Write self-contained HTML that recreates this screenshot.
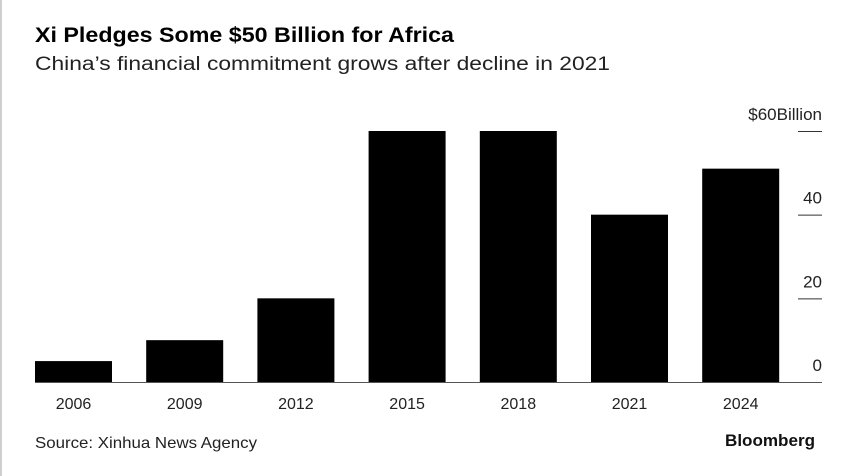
<!DOCTYPE html>
<html><head><meta charset="utf-8"><style>
html,body{margin:0;padding:0;background:#fff;}
svg{display:block;font-family:"Liberation Sans",sans-serif;}
</style></head><body>
<svg id="chart" width="848" height="476" viewBox="0 0 848 476">
<rect x="0" y="0" width="2" height="476" fill="#cfcfcf"/>
<text x="35" y="42" font-size="21" font-weight="bold" fill="#000" textLength="419" lengthAdjust="spacingAndGlyphs">Xi Pledges Some $50 Billion for Africa</text>
<text x="35" y="70" font-size="19" fill="#222" textLength="575" lengthAdjust="spacingAndGlyphs">China’s financial commitment grows after decline in 2021</text>
<g id="bars"></g>
<g id="yaxis"></g>
<g id="xaxis"></g>
<line x1="35" y1="382.5" x2="822" y2="382.5" stroke="#555" stroke-width="1"/>
<text x="35" y="448" font-size="16" fill="#222" textLength="222" lengthAdjust="spacingAndGlyphs">Source: Xinhua News Agency</text>
<text x="815" y="446" font-size="17" font-weight="bold" fill="#111" text-anchor="end" textLength="90" lengthAdjust="spacingAndGlyphs">Bloomberg</text>
</svg>
<script>
const categories = ["2006","2009","2012","2015","2018","2021","2024"];
const values = [5, 10, 20, 60, 60, 40, 51];
const yTicks = [0, 20, 40, 60];
const yTickLabels = ["0", "20", "40", "$60Billion"];

const NS = "http://www.w3.org/2000/svg";
const y0 = 382, yTop = 131, yMax = 60;
function yScale(v){ return y0 - (v / yMax) * (y0 - yTop); }
const xStart = 35, step = 111.2, barW = 77;
function xScale(i){ return xStart + i * step; }

const bars = document.getElementById("bars");
categories.forEach((c, i) => {
  const r = document.createElementNS(NS, "rect");
  r.setAttribute("x", xScale(i));
  r.setAttribute("y", yScale(values[i]));
  r.setAttribute("width", barW);
  r.setAttribute("height", y0 - yScale(values[i]));
  r.setAttribute("fill", "#000");
  
  
  bars.appendChild(r);
  const t = document.createElementNS(NS, "text");
  t.setAttribute("x", xScale(i) + barW / 2);
  t.setAttribute("y", 409);
  t.setAttribute("font-size", "16");
  t.setAttribute("fill", "#222");
  t.setAttribute("text-anchor", "middle");
  t.textContent = c;
  
  
  document.getElementById("xaxis").appendChild(t);
});

const ya = document.getElementById("yaxis");
yTicks.forEach((v, i) => {
  const y = yScale(v);
  if (v !== 0) {
    const l = document.createElementNS(NS, "line");
    l.setAttribute("x1", 798); l.setAttribute("x2", 822);
    l.setAttribute("y1", y + 0.5); l.setAttribute("y2", y + 0.5);
    l.setAttribute("stroke", "#333"); l.setAttribute("stroke-width", "1");
    
    
    ya.appendChild(l);
  }
  const t = document.createElementNS(NS, "text");
  t.setAttribute("x", 822);
  t.setAttribute("y", y - 11);
  t.setAttribute("font-size", "17");
  t.setAttribute("fill", "#222");
  t.setAttribute("text-anchor", "end");
  t.textContent = yTickLabels[i];
  
  
  ya.appendChild(t);
});
</script>
</body></html>
